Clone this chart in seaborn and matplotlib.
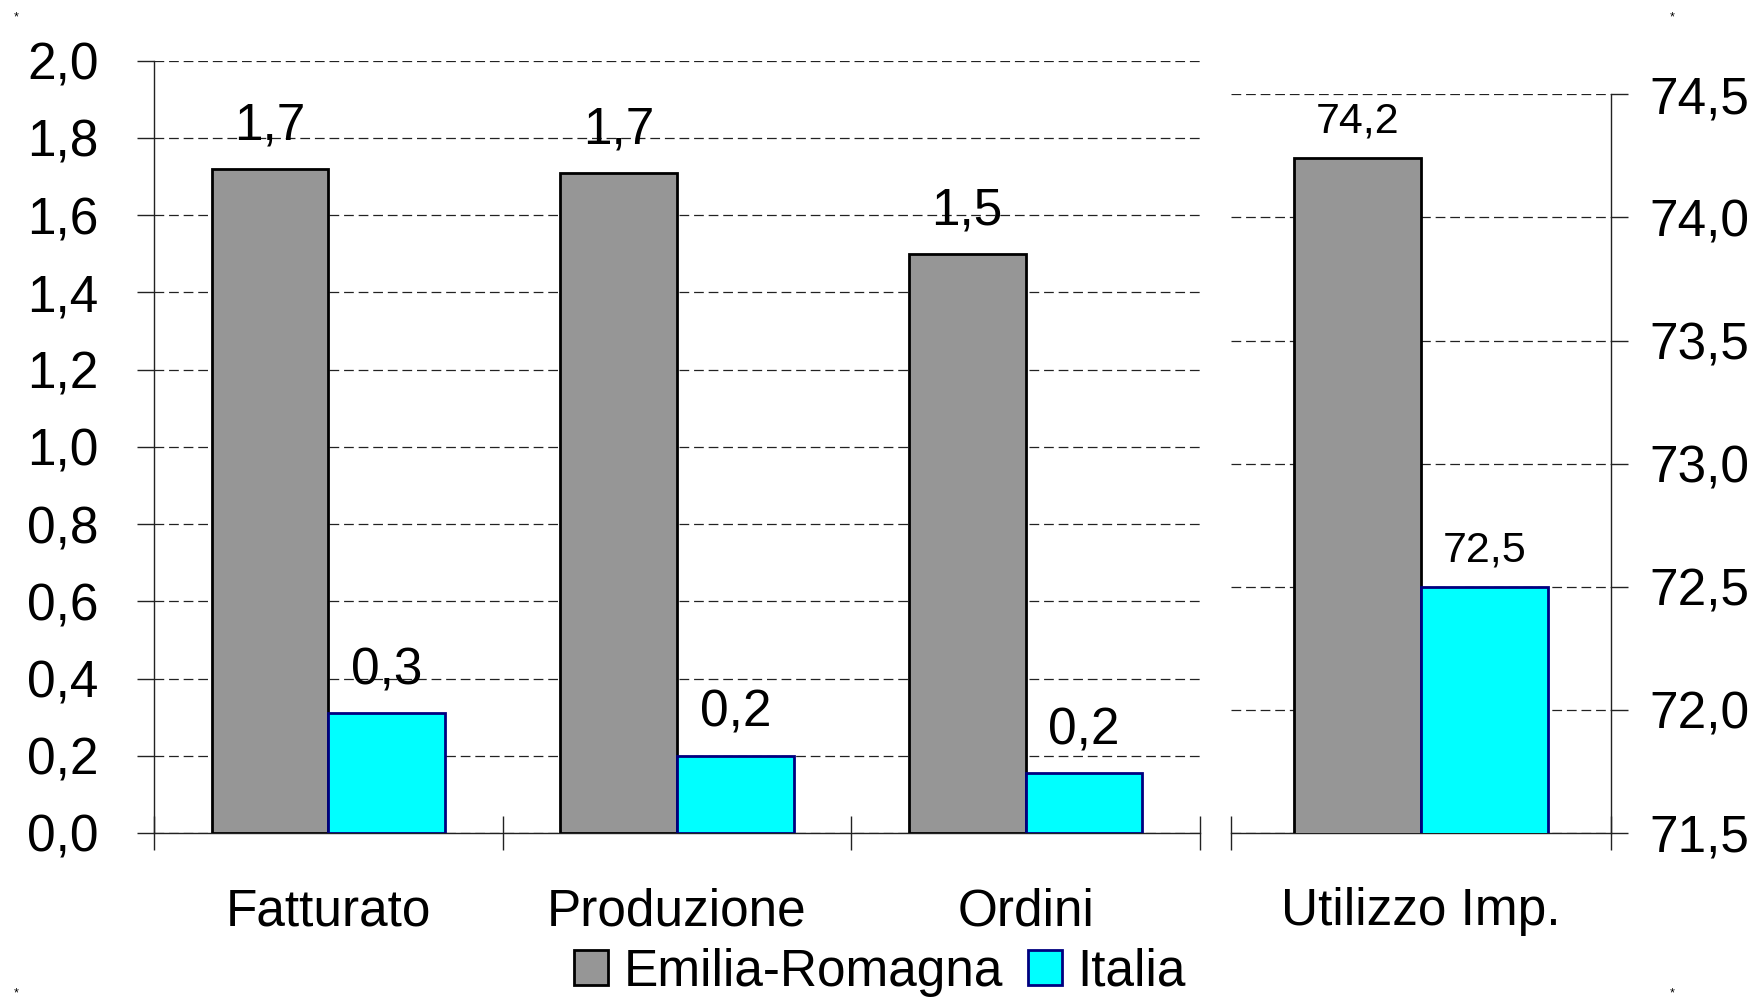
import matplotlib
matplotlib.use('Agg')
import matplotlib.pyplot as plt
import matplotlib.patches as mpatches
import seaborn as sns
import pandas as pd

# Values (variazioni % / grado di utilizzo impianti)
categories_left = ['Fatturato', 'Produzione', 'Ordini']
emilia_left = [1.72, 1.71, 1.50]
italia_left = [0.31, 0.20, 0.155]

categories_right = ['Utilizzo Imp.']
emilia_right = [74.24]
italia_right = [72.5]

series = ['Emilia-Romagna', 'Italia']
fill_colors = ['#969696', '#00FFFF']
edge_colors = ['#000000', '#000080']

sns.set_style('white')
plt.rcParams['font.family'] = ['Liberation Sans', 'DejaVu Sans']
plt.rcParams['lines.scale_dashes'] = False
plt.rcParams['text.color'] = 'black'
plt.rcParams['xtick.labelcolor'] = 'black'
plt.rcParams['ytick.labelcolor'] = 'black'

FS = 37


def long_df(cats, er, it):
    df = pd.DataFrame({'Categoria': cats, series[0]: er, series[1]: it})
    return df.melt(id_vars='Categoria', var_name='Serie', value_name='Valore')


def fmt(v):
    return f"{v:.1f}".replace('.', ',')


fig = plt.figure(figsize=(17.6, 9.97), dpi=100)
ax1 = fig.add_axes([0.0875, 0.1645, 0.5943, 0.7747])
ax2 = fig.add_axes([0.6994, 0.1645, 0.2159, 0.7409])

palette = dict(zip(series, fill_colors))
grid_style = dict(color='#222222', linestyle=(0, (7, 3.5)), linewidth=0.9)

for ax, cats, er, it, lab_fs, pad in [
    (ax1, categories_left, emilia_left, italia_left, FS, 13),
    (ax2, categories_right, emilia_right, italia_right, 31, 12),
]:
    df = long_df(cats, er, it)
    sns.barplot(data=df, x='Categoria', y='Valore', hue='Serie', order=cats,
                hue_order=series, palette=palette, width=0.67, saturation=1,
                legend=False, ax=ax, zorder=3)
    for cont, ec in zip(ax.containers, edge_colors):
        for p in cont:
            p.set_edgecolor(ec)
            p.set_linewidth(2)
        ax.bar_label(cont, labels=[fmt(b.get_height()) for b in cont],
                     padding=pad, fontsize=lab_fs, color='black')
    ax.set_xlim(-0.5, len(cats) - 0.5)
    ax.set_xlabel('')
    ax.set_ylabel('')
    ax.yaxis.grid(True, **grid_style)
    ax.set_axisbelow(True)
    ax.xaxis.grid(False)
    for s in ax.spines.values():
        s.set_color('#222222')
        s.set_linewidth(1)
    ax.spines['top'].set_visible(False)
    # category labels and boundary ticks
    ax.tick_params(axis='x', which='major', bottom=True, length=0, pad=39,
                   labelsize=FS)
    ax.set_xticks([i - 0.5 for i in range(len(cats) + 1)], minor=True)
    ax.tick_params(axis='x', which='minor', bottom=True, direction='inout',
                   length=24, width=1, color='#222222')

# left axis
ax1.set_ylim(0, 2.0)
ax1.set_yticks([i * 0.2 for i in range(11)])
ax1.set_yticklabels([fmt(i * 0.2) for i in range(11)])
ax1.spines['right'].set_visible(False)
ax1.tick_params(axis='y', left=True, direction='out', length=12, width=1,
                pad=28, labelsize=FS, color='#222222')

# right axis
ax2.set_ylim(71.5, 74.5)
ax2.set_yticks([71.5 + i * 0.5 for i in range(7)])
ax2.set_yticklabels([fmt(71.5 + i * 0.5) for i in range(7)])
ax2.spines['left'].set_visible(False)
ax2.yaxis.tick_right()
ax2.tick_params(axis='y', right=True, left=False, direction='out', length=12,
                width=1, pad=16, labelsize=FS, color='#222222')

handles = [mpatches.Patch(facecolor=f, edgecolor=e, linewidth=2, label=s)
           for s, f, e in zip(series, fill_colors, edge_colors)]
fig.legend(handles=handles, loc='center', bbox_to_anchor=(0.500, 0.025),
           ncol=2, frameon=False, fontsize=FS, handlelength=0.66,
           handleheight=0.66, handletextpad=0.3, columnspacing=0.5,
           borderaxespad=0, borderpad=0)

for x, y in [(0.009, 0.983), (0.950, 0.983), (0.009, 0.004), (0.950, 0.004)]:
    fig.text(x, y, '*', fontsize=9, ha='center', va='center')

fig.savefig('out.png', dpi=100)
